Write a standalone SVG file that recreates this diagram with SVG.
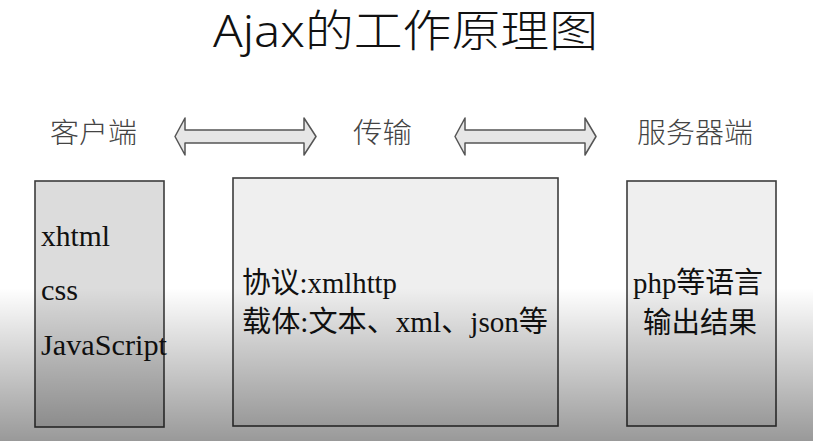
<svg xmlns="http://www.w3.org/2000/svg" width="813" height="441" viewBox="0 0 813 441">
<defs>
<linearGradient id="shade" x1="0" y1="0" x2="0" y2="1">
<stop offset="0" stop-color="#000" stop-opacity="0"/>
<stop offset="1" stop-color="#000" stop-opacity="0.4"/>
</linearGradient>
<style>
.lbl{font-family:"Noto Sans CJK SC","Liberation Serif",serif;font-size:28px;font-weight:300;fill:#444}
.box{stroke:#3c3c3c;stroke-width:1.6}
.txt{font-family:"Liberation Serif","Noto Sans CJK SC",serif;font-size:29px;fill:#111}
.arr{fill:#e6e6e6;stroke:#555;stroke-width:1.5;stroke-linejoin:round}
</style>
</defs>
<rect width="813" height="441" fill="#fff"/>
<text id="title" x="213" y="47" font-family="Noto Sans,'Noto Sans CJK SC',sans-serif" font-size="44" font-weight="300" fill="#111" textLength="385" lengthAdjust="spacingAndGlyphs">Ajax的工作原理图</text>
<g id="client">
<text class="lbl" x="50" y="143" textLength="87" lengthAdjust="spacingAndGlyphs">客户端</text>
<rect class="box" x="35" y="181" width="129" height="246" fill="#dcdcdc" stroke-width="2.2" stroke="#333"/>
<text class="txt" x="41" y="246" textLength="69" lengthAdjust="spacingAndGlyphs">xhtml</text>
<text class="txt" x="41" y="300" textLength="37" lengthAdjust="spacingAndGlyphs">css</text>
<text class="txt" x="41" y="355" textLength="126" lengthAdjust="spacingAndGlyphs">JavaScript</text>
</g>
<g id="transport">
<text class="lbl" x="353" y="143" textLength="59" lengthAdjust="spacingAndGlyphs">传输</text>
<rect class="box" x="233" y="178" width="325" height="248" fill="#efefef"/>
<text class="txt" x="242" y="293" textLength="155" lengthAdjust="spacingAndGlyphs">协议:xmlhttp</text>
<text class="txt" x="242" y="332" textLength="306" lengthAdjust="spacingAndGlyphs">载体:文本、xml、json等</text>
</g>
<g id="server">
<text class="lbl" x="637" y="143" textLength="116" lengthAdjust="spacingAndGlyphs">服务器端</text>
<rect class="box" x="627" y="181" width="149" height="245" fill="#efefef"/>
<text class="txt" x="633" y="293" textLength="130" lengthAdjust="spacingAndGlyphs">php等语言</text>
<text class="txt" x="643" y="333" textLength="114" lengthAdjust="spacingAndGlyphs">输出结果</text>
</g>
<g id="connectors">
<polygon class="arr" points="175,136.5 185,118 185,130 304,130 304,118 316,136.5 304,155 304,143 185,143 185,155"/>
<polygon class="arr" points="455,136.5 465,118 465,130 585,130 585,118 596,136.5 585,155 585,143 465,143 465,155"/>
</g>
<rect x="0" y="288" width="813" height="153" fill="url(#shade)" pointer-events="none"/>
</svg>
